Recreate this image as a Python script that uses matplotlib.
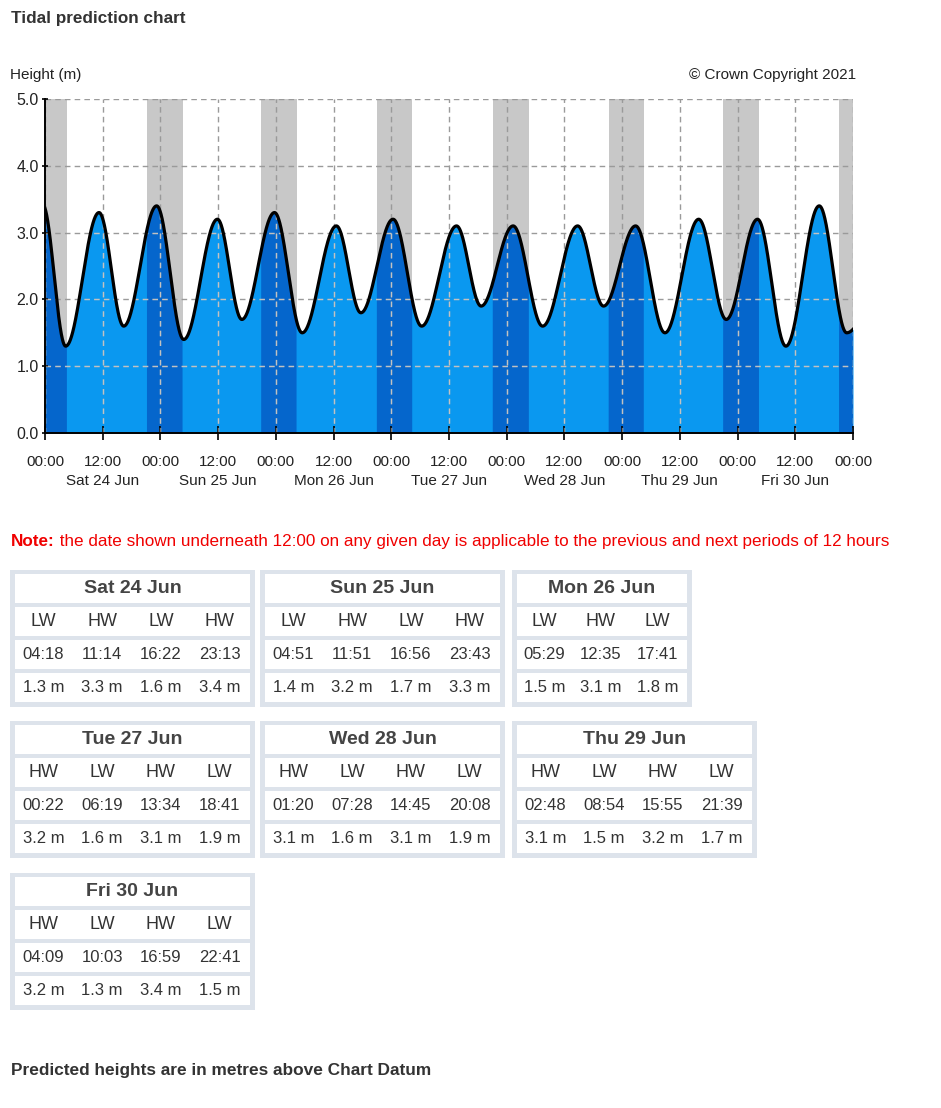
import numpy as np
import matplotlib.pyplot as plt
from matplotlib.patches import Rectangle

plt.rcParams['font.family'] = ['Liberation Sans', 'DejaVu Sans']

# ---- data -------------------------------------------------------------
days = ['Sat 24 Jun', 'Sun 25 Jun', 'Mon 26 Jun', 'Tue 27 Jun',
        'Wed 28 Jun', 'Thu 29 Jun', 'Fri 30 Jun']
tide_types = [
    ['LW', 'HW', 'LW', 'HW'],
    ['LW', 'HW', 'LW', 'HW'],
    ['LW', 'HW', 'LW'],
    ['HW', 'LW', 'HW', 'LW'],
    ['HW', 'LW', 'HW', 'LW'],
    ['HW', 'LW', 'HW', 'LW'],
    ['HW', 'LW', 'HW', 'LW'],
]
tide_times = [
    ['04:18', '11:14', '16:22', '23:13'],
    ['04:51', '11:51', '16:56', '23:43'],
    ['05:29', '12:35', '17:41'],
    ['00:22', '06:19', '13:34', '18:41'],
    ['01:20', '07:28', '14:45', '20:08'],
    ['02:48', '08:54', '15:55', '21:39'],
    ['04:09', '10:03', '16:59', '22:41'],
]
tide_heights = [
    [1.3, 3.3, 1.6, 3.4],
    [1.4, 3.2, 1.7, 3.3],
    [1.5, 3.1, 1.8],
    [3.2, 1.6, 3.1, 1.9],
    [3.1, 1.6, 3.1, 1.9],
    [3.1, 1.5, 3.2, 1.7],
    [3.2, 1.3, 3.4, 1.5],
]
# tides just outside the chart window (estimated from the curve ends)
before_tide = (-0.5, 3.42)     # hours from 00:00 Sat 24, metres
after_tide = (178.0, 3.1)

# daylight (hours after local midnight)
sunrise = [4.55, 4.6, 4.3, 4.35, 4.6, 4.5, 4.45]
sunset = [21.2, 20.95, 21.0, 21.1, 21.2, 21.0, 21.1]

# ---- tide curve -------------------------------------------------------
def to_hours(s):
    hh, mm = s.split(':')
    return int(hh) + int(mm) / 60.0

ext_t = [before_tide[0]]
ext_h = [before_tide[1]]
for d, (times, hts) in enumerate(zip(tide_times, tide_heights)):
    for s, v in zip(times, hts):
        ext_t.append(24 * d + to_hours(s))
        ext_h.append(v)
ext_t.append(after_tide[0])
ext_h.append(after_tide[1])
ext_t = np.array(ext_t)
ext_h = np.array(ext_h)

t = np.linspace(0, 168, 10081)
idx = np.searchsorted(ext_t, t, side='right') - 1
t0, t1 = ext_t[idx], ext_t[idx + 1]
h0, h1 = ext_h[idx], ext_h[idx + 1]
frac = (t - t0) / (t1 - t0)
h = h0 + (h1 - h0) * (1 - np.cos(np.pi * frac)) / 2

nights = [(0, sunrise[0])]
for d in range(7):
    end = 24 * (d + 1) + (sunrise[d + 1] if d + 1 < 7 else 4.5)
    nights.append((24 * d + sunset[d], min(end, 168)))
night = np.zeros_like(t, dtype=bool)
for a, b in nights:
    night |= (t >= a) & (t <= b)

# ---- figure -----------------------------------------------------------
W, H = 941, 1108
fig = plt.figure(figsize=(W / 100, H / 100), dpi=100)
fig.patch.set_facecolor('white')

ov = fig.add_axes([0, 0, 1, 1])
ov.set_xlim(0, W)
ov.set_ylim(H, 0)
ov.axis('off')

ax = fig.add_axes([45 / W, 1 - 433 / H, 808 / W, 334 / H])
light_blue = '#0a98f0'
dark_blue = '#0566cc'

for a, b in nights:
    ax.axvspan(a, b, color='#c8c8c8', lw=0, zorder=0.5)
water = ax.fill_between(t, 0, h, color=light_blue, lw=0, zorder=1)
ax.fill_between(t, 0, h, where=night, color=dark_blue, lw=0, zorder=1.1)
ax.plot(t, h, color='black', lw=2.3, zorder=3)

ax.set_xlim(0, 168)
ax.set_ylim(0, 5)
ax.set_axisbelow(False)
ax.grid(True, color='#9a9a9a', ls=(0, (4, 3)), lw=1.0)

xt = np.arange(0, 169, 12)
yt = np.arange(0, 5.1, 1)
# lighter dashes where the grid crosses the water
for v in xt:
    ln = ax.axvline(v, color='white', alpha=0.4, ls=(0, (4, 3)), lw=1.0,
                    zorder=2.6)
    ln.set_clip_path(water.get_paths()[0], water.get_transform())
for v in yt[1:]:
    ln = ax.axhline(v, color='white', alpha=0.4, ls=(0, (4, 3)), lw=1.0,
                    zorder=2.6)
    ln.set_clip_path(water.get_paths()[0], water.get_transform())

ax.set_xticks(xt)
ax.set_xticklabels(['00:00' if v % 24 == 0 else '12:00' for v in xt])
ax.set_yticks(yt)
ax.set_yticklabels(['%.1f' % v for v in yt])
ax.tick_params(axis='x', direction='inout', length=10, width=1.2,
               pad=11, labelsize=11, labelcolor='#222222')
ax.tick_params(axis='y', direction='inout', length=5, width=1.2,
               pad=2, labelsize=11.5, labelcolor='#222222')
for sp in ['top', 'right']:
    ax.spines[sp].set_visible(False)
for sp in ['left', 'bottom']:
    ax.spines[sp].set_linewidth(1.4)
    ax.spines[sp].set_zorder(4)

for d, name in enumerate(days):
    ax.text(24 * d + 12, -48 / 334, name, transform=ax.get_xaxis_transform(),
            ha='center', va='center', fontsize=11, color='#222222')

# ---- page text ----------------------------------------------------------
ov.text(11, 18, 'Tidal prediction chart', fontsize=12.3, fontweight='bold',
        color='#333333', va='center', ha='left')
ov.text(10, 75, 'Height (m)', fontsize=11, color='#222222', va='center')
ov.text(856, 75, '\u00a9 Crown Copyright 2021', fontsize=11, color='#222222',
        va='center', ha='right')

note = ov.text(11, 546, 'Note:', fontsize=12.3, fontweight='bold',
               color='#f00000', va='baseline', ha='left')
fig.canvas.draw()
bb = note.get_window_extent()
x_end = ov.transData.inverted().transform((bb.x1, bb.y0))[0]
ov.text(x_end, 546, ' the date shown underneath 12:00 on any given day is '
        'applicable to the previous and next periods of 12 hours',
        va='baseline', ha='left', fontsize=12.3, color='#f00000')

ov.text(11, 1071, 'Predicted heights are in metres above Chart Datum',
        fontsize=12.4, fontweight='bold', color='#333333', va='center')

# ---- tables -----------------------------------------------------------
border = '#dde3eb'
table_pos = [(10, 570), (260, 570), (512, 570),
             (10, 721), (260, 721), (512, 721),
             (10, 873)]
rows = [(4, 33), (37, 66), (70, 99), (103, 132)]

for d, (x0, y0) in enumerate(table_pos):
    n = len(tide_types[d])
    w = 245 if n == 4 else 180
    ov.add_patch(Rectangle((x0, y0), w, 137, facecolor=border, lw=0))
    for r0, r1 in rows:
        ov.add_patch(Rectangle((x0 + 5, y0 + r0), w - 10, r1 - r0,
                               facecolor='white', lw=0))
    cy = [y0 + (r0 + r1) / 2 for r0, r1 in rows]
    ov.text(x0 + w / 2, cy[0], days[d], ha='center', va='center',
            fontsize=14, fontweight='bold', color='#444444')
    cw = (w - 10) / n
    for i in range(n):
        cx = x0 + 4 + (i + 0.5) * cw
        ov.text(cx, cy[1], tide_types[d][i], ha='center', va='center',
                fontsize=13, color='#333333')
        ov.text(cx, cy[2], tide_times[d][i], ha='center', va='center',
                fontsize=12, color='#333333')
        ov.text(cx, cy[3], '%.1f m' % tide_heights[d][i], ha='center',
                va='center', fontsize=12, color='#333333')

fig.savefig('out.png', dpi=100)
